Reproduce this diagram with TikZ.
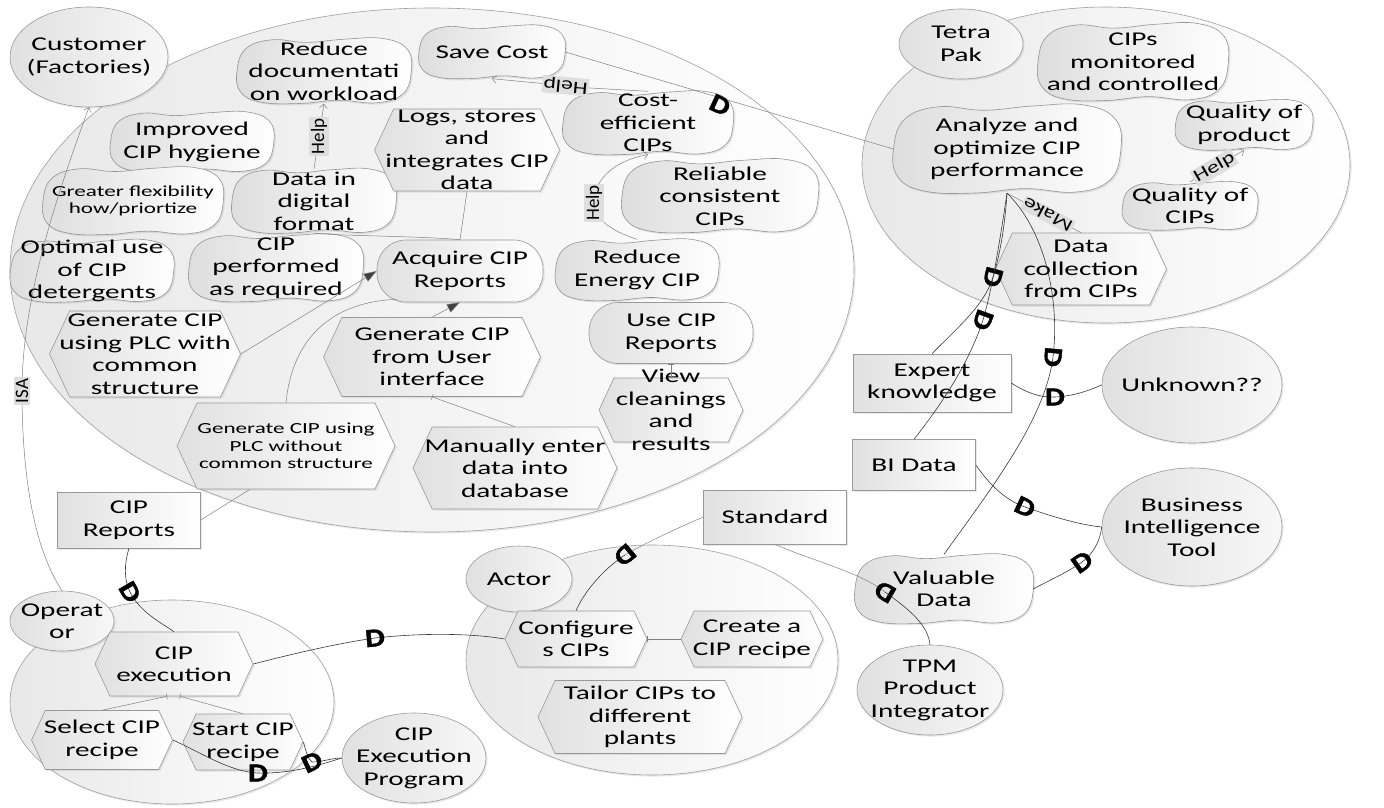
\documentclass[tikz,border=0pt]{standalone}
\usepackage{fontspec}
\setmainfont{Carlito}[FakeStretch=1.5]
\newfontfamily\plainfam{Carlito}
\newfontfamily\lblfam{Carlito}[FakeStretch=1.35]
\newfontfamily\dfam{Carlito}[FakeStretch=1.2,FakeBold=1.6]
\usetikzlibrary{shapes.geometric,shapes.symbols,shapes.misc,arrows.meta,shadows,calc}

\newcommand\mainsz{\fontsize{19.5}{22.5}\selectfont}
\newcommand\smallsz{\fontsize{15.4}{17.4}\selectfont}

\tikzset{
  shadowed/.style={drop shadow={opacity=0.18, shadow xshift=1.6pt, shadow yshift=-1.6pt}},
  bnd/.style={ellipse, draw=black!38, line width=0.6pt, left color=black!9, right color=white, inner sep=0, shadowed},
  actorc/.style={ellipse, draw=black!40, line width=0.6pt, left color=black!12, right color=black!3, inner sep=0, shadowed},
  sgfill/.style={draw=black!42, line width=0.6pt, left color=black!13, right color=white, shadowed},
  hole/.style={rectangle, draw=none, inner sep=0},
  taskbox/.style={signal, signal to=west and east, signal pointer angle=130, draw=black!40, line width=0.6pt, left color=black!12, right color=white, inner sep=0, shadowed},
  goalbox/.style={rectangle, rounded corners=29pt, draw=black!40, line width=0.6pt, left color=black!12, right color=white, inner sep=0, shadowed},
  resbox/.style={rectangle, draw=black!40, line width=0.6pt, left color=black!12, right color=white, inner sep=0, shadowed},
  txt/.style={align=center, inner sep=0, font=\mainsz, text=black},
  link/.style={draw=black!50, line width=0.5pt},
  dep/.style={draw=black!78, line width=0.6pt},
  helpto/.style={link, -{Straight Barb[length=4pt,width=8pt]}},
  meansend/.style={link, -{Triangle[length=13pt,width=9pt,fill=black!75]}},
  decomp/.style={link, {Bar[width=6pt]}-},
  dmark/.style={inner sep=0, font=\dfam\bfseries\fontsize{26}{26}\selectfont},
  lbl/.style={fill=black!13, inner sep=1.2pt, font=\lblfam\fontsize{17.5}{17.5}\selectfont},
  lblv/.style={fill=black!13, inner sep=1.5pt, font=\plainfam\fontsize{19}{19}\selectfont, rotate=90},
}

% softgoal: wavy blob with an invisible box for anchors
\newcommand\softgoal[7][]{%
  \path[sgfill] plot[smooth cycle, tension=0.7] coordinates {
   (#3-0.50*#5,#4+0.00*#6) (#3-0.45*#5,#4-0.34*#6) (#3-0.30*#5,#4-0.48*#6)
   (#3-0.10*#5,#4-0.44*#6) (#3+0.12*#5,#4-0.49*#6) (#3+0.34*#5,#4-0.50*#6)
   (#3+0.48*#5,#4-0.33*#6) (#3+0.50*#5,#4+0.04*#6) (#3+0.45*#5,#4+0.36*#6)
   (#3+0.30*#5,#4+0.49*#6) (#3+0.08*#5,#4+0.45*#6) (#3-0.14*#5,#4+0.50*#6)
   (#3-0.36*#5,#4+0.48*#6) (#3-0.48*#5,#4+0.32*#6)};
  \node[hole, minimum width=#5, minimum height=#6] (#2) at (#3,#4) {};
  \node[txt,#1] (#2-t) at (#3,#4) {#7};}
\newcommand\taskhex[7][]{%
  \node[taskbox, minimum width=#5, minimum height=#6] (#2) at (#3,#4) {};
  \node[txt,#1] (#2-t) at (#3,#4) {#7};}
\newcommand\goalnode[7][]{%
  \node[goalbox, minimum width=#5, minimum height=#6] (#2) at (#3,#4) {};
  \node[txt,#1] (#2-t) at (#3,#4) {#7};}
\newcommand\resnode[7][]{%
  \node[resbox, minimum width=#5, minimum height=#6] (#2) at (#3,#4) {};
  \node[txt,#1] (#2-t) at (#3,#4) {#7};}
\newcommand\actornode[7][]{%
  \node[actorc, minimum width=#5, minimum height=#6] (#2) at (#3,#4) {};
  \node[txt,#1] (#2-t) at (#3,#4) {#7};}

\begin{document}
\begin{tikzpicture}[x=1pt, y=-1pt]
\useasboundingbox (0,0) rectangle (1384,808);

% actor boundaries
\node[bnd, minimum width=844, minimum height=524] (bCust) at (432,270) {};
\node[bnd, minimum width=488, minimum height=316] (bTetra) at (1106,165) {};
\node[bnd, minimum width=324, minimum height=204] (bOper) at (172,702) {};
\node[bnd, minimum width=372, minimum height=230] (bActor) at (652,660) {};

% actors
\actornode{custC}{89}{57}{158}{100}{Customer\\(Factories)}
\actornode{tetraC}{961}{44}{124}{70}{Tetra\\Pak}
\actornode{opC}{62}{621}{104}{60}{Operat\\or}
\actornode{actorC}{519}{579}{106}{66}{Actor}
\actornode{cipexecC}{414}{758}{144}{90}{CIP\\Execution\\Program}
\actornode{tpmC}{930}{690}{146}{90}{TPM\\Product\\Integrator}
\actornode{unknownC}{1192}{385}{180}{116}{Unknown??}
\actornode{bitoolC}{1192}{527}{180}{118}{Business\\Intelligence\\Tool}

% customer (factories)
\softgoal{reduce}{324}{71}{174}{65}{Reduce\\documentati\\on workload}
\softgoal{save}{492}{52}{146}{53}{Save Cost}
\softgoal{hyg}{192}{142}{163}{60}{Improved\\CIP hygiene}
\softgoal[font=\smallsz]{flex}{133}{201}{180}{67}{Greater flexibility\\how/priortize}
\softgoal{data}{314}{201}{164}{64}{Data in\\digital\\format}
\taskhex{logs}{467}{150}{185}{82}{Logs, stores\\and\\integrates CIP\\data}
\softgoal{costeff}{648}{123}{170}{63}{Cost-\\efficient\\CIPs}
\softgoal{reliable}{720}{196}{196}{73}{Reliable\\consistent\\CIPs}
\softgoal{optimal}{92}{271}{163}{62}{Optimal use\\of CIP\\detergents}
\softgoal{perf}{276}{268}{174}{67}{CIP\\performed\\as required}
\goalnode{acquire}{460}{271}{166}{62}{Acquire CIP\\Reports}
\softgoal{energy}{637}{270}{163}{61}{Reduce\\Energy CIP}
\taskhex{plcwith}{145}{354}{191}{86}{Generate CIP\\using PLC with\\common\\structure}
\taskhex{genui}{432}{357}{217}{79}{Generate CIP\\from User\\interface}
\goalnode{usecip}{671}{333}{164}{61}{Use CIP\\Reports}
\taskhex[font=\smallsz]{plcwo}{286}{446}{218}{86}{Generate CIP using\\PLC without\\common structure}
\taskhex{manual}{515}{468}{204}{82}{Manually enter\\data into\\database}
\taskhex{view}{671}{410}{144}{64}{View\\cleanings\\and\\results}
\resnode{reports}{129}{520}{143}{56}{CIP\\Reports}

% tetra pak
\softgoal{monitored}{1133}{62}{190}{77}{CIPs\\monitored\\and controlled}
\softgoal{analyze}{1007}{149}{227}{88}{Analyze and\\optimize CIP\\performance}
\softgoal{qprod}{1244}{125}{137}{50}{Quality of\\product}
\softgoal{qcips}{1190}{206}{135}{48}{Quality of\\CIPs}
\taskhex{datacoll}{1081}{269}{171}{72}{Data\\collection\\from CIPs}

% free elements on the right
\resnode{expert}{932}{383}{158}{58}{Expert\\knowledge}
\resnode{bidata}{914}{465}{123}{51}{BI Data}
\resnode{standard}{775}{517}{143}{54}{Standard}
\softgoal{valuable}{944}{589}{178}{69}{Valuable\\Data}

% operator
\taskhex{exec}{174}{664}{158}{64}{CIP\\execution}
\taskhex{select}{102}{740}{141}{59}{Select CIP\\recipe}
\taskhex{start}{243}{742}{120}{56}{Start CIP\\recipe}

% actor
\taskhex{configures}{576}{639}{142}{56}{Configure\\s CIPs}
\taskhex{create}{752}{639}{142}{56}{Create a\\CIP recipe}
\taskhex{tailor}{640}{717}{204}{73}{Tailor CIPs to\\different\\plants}

% ---- links inside the customer boundary
\draw[link] (logs.south) -- (acquire.north);
\draw[link] (data.south) .. controls (340,236) and (420,236) .. (acquire.north);
\draw[meansend] (plcwith.east) -- (acquire.west);
\draw[meansend] (genui.north) -- (acquire.south);
\draw[link] (plcwo.north) .. controls (292,340) and (330,302) .. ($(acquire.south west)+(20,-3)$);
\draw[decomp] (genui.south) -- (manual.north);
\draw[decomp] (usecip.south) -- (view.north);
\draw[link] ($(plcwo.south)+(-36,0)$) -- (reports.east);
\draw[helpto] (data.north) -- node[lblv] (h1) {Help} (reduce.south);
\draw[helpto] (costeff.north) -- (590,88) -- node[lbl, pos=0.25, sloped, allow upside down] (h2) {Help} (save.south);
\draw[helpto] (energy.north) .. controls (615,232) and (596,222) .. (594,203) .. controls (593,180) and (615,160) .. (costeff.south);
\node[lblv] (h3) at (594,203) {Help};

% ---- links inside tetra pak
\draw[helpto] (qcips.north) -- node[lbl, pos=0.45, sloped, allow upside down] (h4) {Help} (qprod.south);
\draw[link] (datacoll.north) -- node[lbl, pos=0.45, sloped, allow upside down] (mk) {Make} (analyze.south);

% ---- dependencies
\draw[link] (save.east) -- (analyze.west);
\node[dmark, rotate=-25] (d1) at (720,105) {D};

\draw[dep] (analyze.south) .. controls (1005,225) and (1000,255) .. (993,277) .. controls (985,305) and (955,330) .. (expert.north);
\node[dmark, rotate=-105] (d2) at (993,277) {D};
\draw[dep] (analyze.south) .. controls (1000,240) and (992,290) .. (983,320) .. controls (970,360) and (945,400) .. (bidata.north);
\node[dmark, rotate=-110] (d3) at (983,320) {D};
\draw[dep] (analyze.south) .. controls (1045,230) and (1060,300) .. (1053,357) .. controls (1045,420) and (990,490) .. (valuable.north);
\node[dmark, rotate=-95] (d4) at (1053,357) {D};

\draw[dep] (expert.east) .. controls (1025,392) and (1040,398) .. (1055,397) .. controls (1075,396) and (1090,390) .. (unknownC.west);
\node[dmark] (d5) at (1055,397) {D};
\draw[dep] (bidata.east) .. controls (990,485) and (1005,500) .. (1025,507) .. controls (1050,516) and (1080,525) .. (bitoolC.west);
\node[dmark, rotate=-25] (d6) at (1025,507) {D};
\draw[dep] (valuable.east) .. controls (1050,580) and (1068,572) .. (1082,562) .. controls (1095,552) and (1100,540) .. (bitoolC.west);
\node[dmark, rotate=35] (d7) at (1082,562) {D};

\draw[link] (standard.south) .. controls (810,560) and (860,572) .. (885,592);
\draw[dep] (885,592) .. controls (910,610) and (928,625) .. (tpmC.north);
\node[dmark, rotate=150] (d8) at (885,592) {D};
\draw[dep] (configures.north) .. controls (585,590) and (605,568) .. (625,555);
\draw[link] (625,555) .. controls (645,543) and (680,527) .. (standard.west);
\node[dmark, rotate=-140] (d9) at (625,555) {D};

\draw[dep] (exec.east) .. controls (300,652) and (340,643) .. (375,638) .. controls (420,633) and (470,633) .. (configures.west);
\node[dmark, rotate=5] (d10) at (375,638) {D};
\draw[dep] (reports.south) .. controls (124,565) and (124,580) .. (130,592) .. controls (140,612) and (160,622) .. (exec.north);
\node[dmark, rotate=-60] (d11) at (130,592) {D};
\draw[dep] (select.east) .. controls (200,752) and (230,772) .. (258,773) .. controls (290,774) and (320,765) .. (cipexecC.west);
\node[dmark] (d12) at (258,773) {D};
\draw[dep] (start.east) .. controls (306,750) and (307,758) .. (312,762) .. controls (322,762) and (332,758) .. (cipexecC.west);
\node[dmark, rotate=25] (d13) at (312,762) {D};

% ---- operator and actor decompositions
\draw[decomp] ($(exec.south)+(-7,0)$) -- (select.north);
\draw[decomp] ($(exec.south)+(6,0)$) -- (start.north);
\draw[decomp] (configures.east) -- (create.west);

% ---- ISA between customer and operator
\draw[link, {Straight Barb[length=4pt,width=8pt]}-] (custC.south) .. controls (55,200) and (22,300) .. (22,391) .. controls (22,480) and (35,550) .. (opC.north);
\node[lblv] (isa) at (22,391) {ISA};
\end{tikzpicture}
\end{document}
